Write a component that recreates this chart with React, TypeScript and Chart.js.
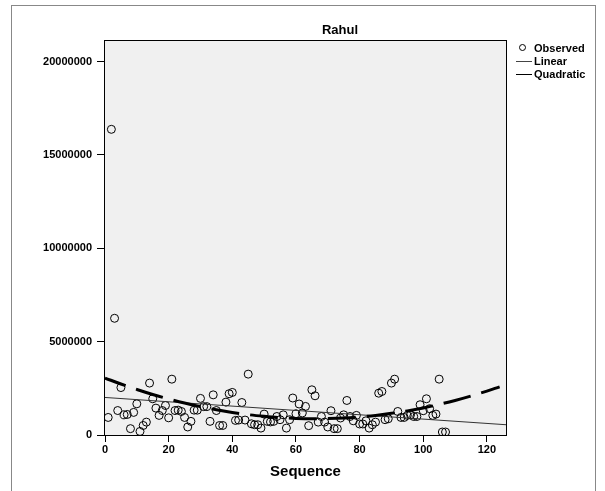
import React, { useEffect, useRef } from "react";
import { Chart, registerables } from "chart.js";

Chart.register(...registerables);

const TITLE = "Rahul";
const X_TITLE = "Sequence";
const LEGEND_LABELS = ["Observed", "Linear", "Quadratic"];

// Observed values for sequence 1..107
const observed = [
  940000, 16370000, 6250000, 1310000, 2540000, 1080000, 1100000, 340000, 1210000, 1670000,
  190000, 510000, 690000, 2780000, 1940000, 1440000, 1050000, 1310000, 1580000, 920000,
  2990000, 1310000, 1330000, 1260000, 940000, 430000, 730000, 1330000, 1330000, 1960000,
  1520000, 1520000, 730000, 2150000, 1310000, 510000, 510000, 1760000, 2210000, 2280000,
  780000, 800000, 1740000, 800000, 3260000, 600000, 550000, 550000, 370000, 1120000,
  730000, 700000, 730000, 990000, 820000, 1080000, 370000, 820000, 1980000, 1140000,
  1660000, 1180000, 1530000, 500000, 2420000, 2100000, 690000, 990000, 690000, 430000,
  1300000, 340000, 340000, 910000, 1080000, 1850000, 990000, 760000, 1050000, 590000,
  590000, 760000, 370000, 550000, 690000, 2240000, 2330000, 820000, 870000, 2780000,
  2990000, 1260000, 940000, 940000, 1050000, 1080000, 990000, 990000, 1620000, 1300000,
  1940000, 1410000, 1050000, 1120000, 2990000, 160000, 160000,
];

const linearX = [0, 126];
const linearY = [2010000, 550000];

const quadX = [0, 5, 10, 15, 20, 25, 30, 35, 40, 45, 50, 55, 60, 65, 70, 75, 80, 85, 90, 95, 100, 105, 110, 115, 120, 124];
const quadY = [
  3050000, 2730000, 2440000, 2170000, 1930000, 1710000, 1520000, 1350000, 1210000, 1090000,
  1000000, 930000, 890000, 870000, 880000, 910000, 970000, 1050000, 1160000, 1290000,
  1450000, 1640000, 1850000, 2090000, 2350000, 2580000,
];

const xTicks = [0, 20, 40, 60, 80, 100, 120];
const yTicks = [0, 5000000, 10000000, 15000000, 20000000];
const X_MIN = 0;
const X_MAX = 126;
const Y_MIN = 0;
const Y_MAX = 21100000;

const FONT = "'Liberation Sans', Arial, Helvetica, sans-serif";

const plotFrame = {
  id: "plotFrame",
  beforeDraw(chart: any) {
    const { ctx, chartArea } = chart;
    if (!chartArea) return;
    const { left, top, right, bottom } = chartArea;
    ctx.save();
    ctx.fillStyle = "#f0f0f0";
    ctx.fillRect(left, top, right - left, bottom - top);
    ctx.restore();
  },
  afterDraw(chart: any) {
    const { ctx, chartArea } = chart;
    if (!chartArea) return;
    const { left, top, right, bottom } = chartArea;
    ctx.save();
    ctx.strokeStyle = "#000";
    ctx.lineWidth = 1;
    ctx.strokeRect(Math.round(left) - 0.5, Math.round(top) - 0.5, Math.round(right - left) + 1, Math.round(bottom - top) + 1);
    ctx.restore();
  },
};

export default function App() {
  const canvasRef = useRef<HTMLCanvasElement | null>(null);

  useEffect(() => {
    const canvas = canvasRef.current;
    if (!canvas) return;
    const chart = new Chart(canvas, {
      type: "scatter",
      data: {
        datasets: [
          {
            label: LEGEND_LABELS[2],
            data: quadX.map((x, i) => ({ x, y: quadY[i] })),
            showLine: true,
            borderColor: "#000",
            borderWidth: 3,
            borderDash: [28, 11],
            borderDashOffset: 6,
            pointRadius: 0,
            tension: 0.4,
            fill: false,
          } as any,
          {
            label: LEGEND_LABELS[1],
            data: linearX.map((x, i) => ({ x, y: linearY[i] })),
            showLine: true,
            borderColor: "#333",
            borderWidth: 1,
            pointRadius: 0,
            fill: false,
          } as any,
          {
            label: LEGEND_LABELS[0],
            data: observed.map((y, i) => ({ x: i + 1, y })),
            showLine: false,
            pointStyle: "circle",
            pointRadius: 4,
            pointBorderWidth: 1,
            pointBorderColor: "#000",
            pointBackgroundColor: "rgba(0,0,0,0)",
          } as any,
        ],
      },
      options: {
        responsive: false,
        animation: false,
        devicePixelRatio: 1,
        layout: { padding: { left: 0, top: 41, right: 99, bottom: 0 } },
        plugins: {
          legend: { display: false },
          tooltip: { enabled: false },
          title: { display: false },
        },
        scales: {
          x: {
            type: "linear",
            min: X_MIN,
            max: X_MAX,
            afterBuildTicks: (s: any) => {
              s.ticks = xTicks.map((v) => ({ value: v }));
            },
            afterFit: (s: any) => {
              s.height = 56;
            },
            border: { display: false },
            grid: {
              drawOnChartArea: false,
              drawTicks: true,
              tickLength: 7,
              tickColor: "#000",
              tickWidth: 1,
            },
            ticks: {
              color: "#000",
              padding: 1,
              maxRotation: 0,
              font: { family: FONT, size: 11, weight: "bold" },
              callback: (v: any) => String(v),
            },
            title: {
              display: true,
              text: X_TITLE,
              color: "#000",
              font: { family: FONT, size: 15, weight: "bold" },
              padding: { top: 0, bottom: 10 },
            },
          },
          y: {
            type: "linear",
            min: Y_MIN,
            max: Y_MAX,
            afterBuildTicks: (s: any) => {
              s.ticks = yTicks.map((v) => ({ value: v }));
            },
            afterFit: (s: any) => {
              s.width = 105;
            },
            border: { display: false },
            grid: {
              drawOnChartArea: false,
              drawTicks: true,
              tickLength: 8,
              tickColor: "#000",
              tickWidth: 1,
            },
            ticks: {
              color: "#000",
              padding: 5,
              font: { family: FONT, size: 11, weight: "bold" },
              callback: (v: any) => String(v),
            },
          },
        },
      } as any,
      plugins: [plotFrame],
    });
    return () => chart.destroy();
  }, []);

  const legendText: React.CSSProperties = {
    position: "absolute",
    left: 534,
    fontFamily: FONT,
    fontWeight: "bold",
    fontSize: 11,
    lineHeight: "12px",
    color: "#000",
    whiteSpace: "nowrap",
  };

  return (
    <div
      style={{
        position: "fixed",
        left: 0,
        top: 0,
        width: 605,
        height: 491,
        background: "#fff",
        overflow: "hidden",
      }}
    >
      <div
        style={{
          position: "absolute",
          left: 11,
          top: 5,
          width: 585,
          height: 600,
          border: "1px solid #888",
          boxSizing: "border-box",
        }}
      />
      <canvas
        ref={canvasRef}
        width={605}
        height={491}
        style={{ position: "absolute", left: 0, top: 0, display: "block" }}
      />
      <div
        style={{
          position: "absolute",
          left: 240,
          width: 200,
          top: 23,
          textAlign: "center",
          fontFamily: FONT,
          fontWeight: "bold",
          fontSize: 13,
          lineHeight: "14px",
          color: "#000",
        }}
      >
        {TITLE}
      </div>
      <div
        style={{
          position: "absolute",
          left: 519,
          top: 44,
          width: 7,
          height: 7,
          border: "1px solid #000",
          borderRadius: "50%",
          boxSizing: "border-box",
        }}
      />
      <div style={{ ...legendText, top: 42 }}>{LEGEND_LABELS[0]}</div>
      <div style={{ position: "absolute", left: 516, top: 61, width: 16, height: 1, background: "#444" }} />
      <div style={{ ...legendText, top: 55 }}>{LEGEND_LABELS[1]}</div>
      <div style={{ position: "absolute", left: 516, top: 74, width: 16, height: 1, background: "#000" }} />
      <div style={{ ...legendText, top: 68 }}>{LEGEND_LABELS[2]}</div>
    </div>
  );
}
